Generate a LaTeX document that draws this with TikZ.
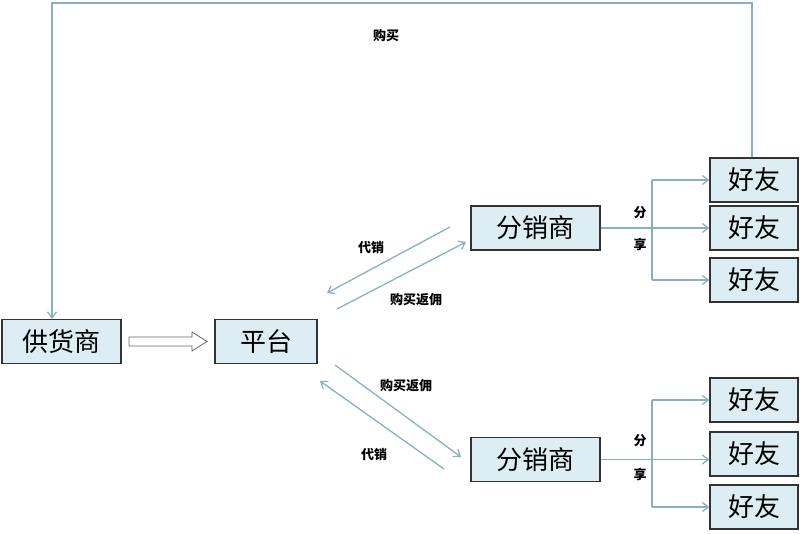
\documentclass[tikz,border=0pt]{standalone}
\usepackage{fontspec}
\setmainfont{Noto Sans CJK SC}
\usetikzlibrary{arrows.meta}
\definecolor{bx}{HTML}{DCEEF3}
\definecolor{ln}{HTML}{8AB0BE}
\begin{document}
\begin{tikzpicture}[x=1pt,y=-1pt,
 box/.style={draw=black!80,line width=1.2pt,fill=bx,minimum height=44pt,font=\fontsize{26}{26}\selectfont,inner sep=0pt},
 con/.style={draw=ln,line width=1.3pt,-{Straight Barb[length=6pt,width=9pt]}},
 lab/.style={font=\bfseries\fontsize{13}{13}\selectfont}]
\useasboundingbox (0,0) rectangle (800,534);
\node[box,minimum width=119pt] (g) at (61.5,341.5) {供货商};
\node[box,minimum width=102pt] (p) at (266,341.5) {平台};
\node[box,minimum width=129pt] (d1) at (535.5,228) {分销商};
\node[box,minimum width=129pt] (d2) at (535.5,459.5) {分销商};
\foreach \n/\y in {a/180,b/228,c/280,d/400,e/454,f/507}
  \node[box,minimum width=88pt] (\n) at (754,\y) {好友};
\coordinate (t1) at (752,3); \coordinate (t2) at (52,3);
\draw[con] (a.north -| t1) -- (t1) -- (t2) -- (t2 |- g.north);
\node[lab] (buy) at (386,36) {购买};
\draw[draw=black!60,line width=0.8pt,fill=white,-{}] (129,337) -- (192,337) -- (192,332) -- (207,341.5) -- (192,351) -- (192,346) -- (129,346) -- cycle;
\coordinate (u1) at (450,227); \coordinate (u2) at (327,293);
\coordinate (u3) at (337,309); \coordinate (u4) at (466,242);
\draw[con] (u1) -- (u2); \draw[con] (u3) -- (u4);
\node[lab] (l1) at (371,248) {代销};
\node[lab] (l2) at (416,300) {购买返佣};
\coordinate (v1) at (335,365); \coordinate (v2) at (461,457);
\coordinate (v3) at (444,469); \coordinate (v4) at (320,381);
\draw[con] (v1) -- (v2); \draw[con] (v3) -- (v4);
\node[lab] (l3) at (406,386) {购买返佣};
\node[lab] (l4) at (374,455) {代销};
\foreach \d/\x/\y/\z/\k in {d1/a/b/c/1,d2/d/e/f/2}{
  \coordinate (j\k) at (652,0);
  \draw[con] (\d.east) -- (\d.east -| \y.west);
  \draw[con] (j\k |- \x.west) -- (\x.west);
  \draw[con] (j\k |- \z.west) -- (\z.west);
  \draw[draw=ln,line width=1.3pt] (j\k |- \x.west) -- (j\k |- \z.west);
}
\node[lab] (s1) at (640,213) {分};
\node[lab] (s2) at (640,245) {享};
\node[lab] (s3) at (640,441) {分};
\node[lab] (s4) at (640,475) {享};
\end{tikzpicture}
\end{document}
